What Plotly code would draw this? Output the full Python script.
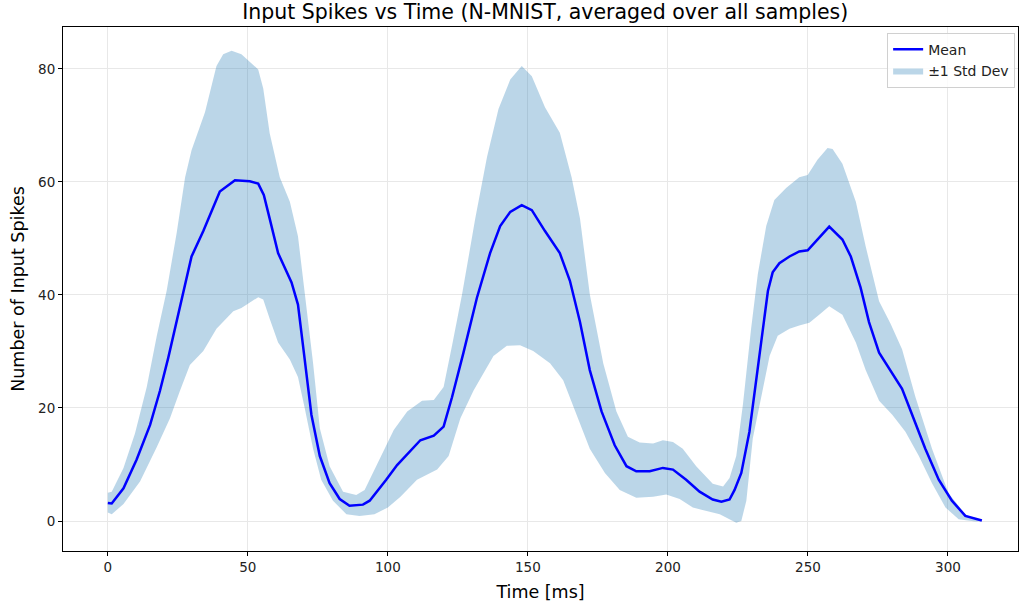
import plotly.graph_objects as go

# Mean curve
mean_t = [0, 1.4, 5.6, 10.3, 15.1, 18.6, 21.6, 24.6, 27, 29.9, 34.1, 37.6, 40, 45.4, 50.7, 53.7,
          55.7, 57.8, 60.8, 65.6, 67.9, 70.3, 72.7, 75.7, 79.2, 82.8, 86.3, 91.1, 93.5, 99.4,
          103.3, 111.6, 116.4, 119.9, 122.9, 127, 131.8, 136.5, 140.1, 143.7, 147.8, 151.4,
          156.1, 161.4, 165, 168.6, 172.1, 176.3, 181, 185.2, 188.7, 193.5, 198.2, 201.8,
          206.5, 211.3, 216, 219.1, 222, 223.8, 226.2, 229.1, 231.5, 233.9, 235.7, 237.4,
          239.8, 243.4, 246.9, 249.9, 254, 257.6, 262.3, 265.3, 268.8, 271.8, 275.4, 279.5,
          283.6, 287.2, 291.9, 296.7, 301.4, 306.2, 312.1]
mean_v = [3.2, 3.1, 5.8, 10.9, 17, 23, 28.9, 35.2, 40.7, 46.8, 51.3, 55.6, 58.3, 60.3, 60.1, 59.7,
          57.7, 53.5, 47.4, 42.2, 38.3, 28.6, 18.8, 11.5, 6.7, 3.9, 2.7, 2.9, 3.6, 7.3,
          9.9, 14.3, 15.1, 16.7, 21.9, 29.8, 39.5, 47.4, 52.2, 54.7, 55.9, 55,
          51.3, 47.4, 42.5, 35.2, 26.7, 19.4, 13.4, 9.7, 8.8, 8.8, 9.4, 9.1,
          7.3, 5.2, 3.8, 3.4, 3.8, 5.5, 8.5, 15.8, 24.9, 34, 40.7, 44,
          45.6, 46.8, 47.7, 47.9, 50.1, 52.1, 49.8, 46.8, 41.3, 35.2, 29.8, 26.7,
          23.4, 18.8, 12.8, 7.3, 3.6, 0.9, 0.1]

# Upper edge of ±1 std band
upper_t = [0, 1.4, 5.6, 9.7, 13.9, 17.5, 21, 24.6, 27.6, 29.9, 34.7, 38.8, 41.2, 44.2, 47.7, 53.7,
           55.5, 57.8, 61.4, 65, 67.9, 70.3, 73.3, 75.7, 79.2, 84, 88.7, 91.7, 94.7, 99.4,
           102.1, 106.9, 112.2, 116.4, 119.9, 122.9, 126.5, 131.2, 135.4, 139.5, 143.7, 147.8,
           151.4, 156.1, 161.4, 165.6, 168.6, 172.1, 176.9, 181.6, 185.7, 189.9, 194.7, 198.2,
           201.8, 205.3, 210.1, 216, 219.7, 222, 224.4, 226.8, 229.7, 232.1, 235.1, 238,
           242.2, 246.9, 249.9, 253.4, 257, 258.8, 262.3, 267.1, 270.6, 275.4, 279.5, 283.6,
           288.4, 294.3, 300.2, 306.2, 309.7, 312.1]
upper_v = [5, 5.2, 9.4, 15.5, 23.7, 32.8, 40.7, 51, 60.8, 65.6, 72.3, 80.5, 82.6, 83.2, 82.6, 79.9,
           76.5, 68.6, 60.8, 56.5, 50.4, 40.1, 27.9, 16.4, 9.7, 5.2, 4.6, 5.5, 8.5, 13.4,
           16.1, 19.4, 21.3, 21.4, 23.7, 31, 40.1, 53.5, 64.4, 72.9, 78.1, 80.5,
           78.7, 73.2, 68.7, 60.8, 53.5, 40.1, 27.9, 19.4, 14.9, 13.9, 13.7, 14.3,
           14, 12.8, 9.7, 6.6, 6.1, 7.6, 11.5, 20.7, 34, 43.7, 52.2, 56.8,
           58.9, 60.8, 61.2, 63.9, 66, 65.8, 63.2, 56.5, 48.6, 38.9, 34.9, 30.4,
           21.9, 12.8, 4.9, 1.2, 0.3, 0.1]

# Lower edge of ±1 std band
lower_t = [0, 1.4, 5.6, 11.5, 17.5, 22.2, 25.8, 29.3, 34.1, 38.8, 44.8, 47.7, 51.3, 53.7, 55.5,
           57.8, 60.8, 65, 67.9, 70.3, 73.3, 76.2, 80.4, 85.2, 89.9, 95.2, 100, 104.5,
           110.4, 117.6, 121.7, 125.9, 130.6, 137.7, 142.5, 147.2, 151.9, 157.9, 162.6,
           167.4, 172.1, 177.5, 182.8, 188.7, 194.7, 199.4, 204.2, 208.9, 212, 218.5, 222,
           224.4, 226.2, 228, 230.3, 233.3, 236.3, 239.2, 243.4, 246.9, 250.5, 254, 257.6,
           262.3, 267.1, 270.6, 275.4, 280.1, 284.8, 289.6, 294.3, 299.1, 303.8, 309.7, 312.1]
lower_v = [1.5, 1.2, 3, 7, 13.1, 18.2, 23.1, 27.6, 30.1, 34, 37.1, 37.7, 38.9, 39.6, 39.2,
           35.8, 31.6, 28.6, 25.5, 20, 12.8, 7.3, 3.6, 1.2, 0.9, 1.2, 2.4, 4.3,
           7.3, 9.1, 11.5, 18.2, 23.1, 29.2, 31, 31.1, 30.1, 27.9, 24.9,
           18.8, 12.8, 8.5, 5.5, 4.1, 4.3, 4.7, 3.9, 2.4, 2, 1.2, 0.3,
           -0.3, 0, 3.6, 14.6, 21.9, 29.2, 32.8, 34, 34.6, 35.1, 36.5, 38,
           36.5, 31.6, 26.7, 21.3, 18.8, 15.8, 11.5, 6.7, 2.4, 0.3, -0.1, 0]

x_ticks = [0, 50, 100, 150, 200, 250, 300]
y_ticks = [0, 20, 40, 60, 80]

FONT = "DejaVu Sans, sans-serif"

fig = go.Figure()
fig.add_trace(go.Scatter(
    x=upper_t + lower_t[::-1], y=upper_v + lower_v[::-1],
    fill="toself", fillcolor="rgba(31,119,180,0.3)", mode="lines",
    line=dict(width=0, color="rgba(31,119,180,0)"),
    name="±1 Std Dev", legendrank=2, hoverinfo="skip"))
fig.add_trace(go.Scatter(
    x=mean_t, y=mean_v, mode="lines", line=dict(color="#0000ff", width=2.5),
    name="Mean", legendrank=1))

axis_common = dict(
    showline=True, linecolor="black", linewidth=1, mirror=True,
    ticks="outside", ticklen=4, tickcolor="black", tickwidth=1,
    showgrid=True, gridcolor="#e8e8e8", gridwidth=1, zeroline=False,
    tickfont=dict(family=FONT, size=13.5, color="#222"), automargin=False,
)

fig.update_layout(
    width=1019, height=606,
    margin=dict(l=63, r=1, t=27, b=55),
    paper_bgcolor="white", plot_bgcolor="white",
    title=dict(text="Input Spikes vs Time (N-MNIST, averaged over all samples)",
               x=0.535, xanchor="center", y=0.98, yanchor="middle",
               font=dict(family=FONT, size=20.5, color="black")),
    xaxis=dict(range=[-16, 325], tickvals=x_ticks,
               title=dict(text="Time [ms]", font=dict(family=FONT, size=17.5, color="black"), standoff=11),
               **axis_common),
    yaxis=dict(range=[-5.3, 87.4], tickvals=y_ticks,
               title=dict(text="Number of Input Spikes", font=dict(family=FONT, size=17.5, color="black"), standoff=8),
               **axis_common),
    legend=dict(x=0.997, y=0.989, xanchor="right", yanchor="top",
                bgcolor="rgba(255,255,255,0.8)", bordercolor="#d0d0d0", borderwidth=1,
                font=dict(family=FONT, size=14, color="#222"),
                traceorder="normal", tracegroupgap=0),
    showlegend=True,
)

fig.write_html("out.html", config={"displayModeBar": False},
               post_script="document.body.style.margin='0';document.body.style.overflow='hidden';")
